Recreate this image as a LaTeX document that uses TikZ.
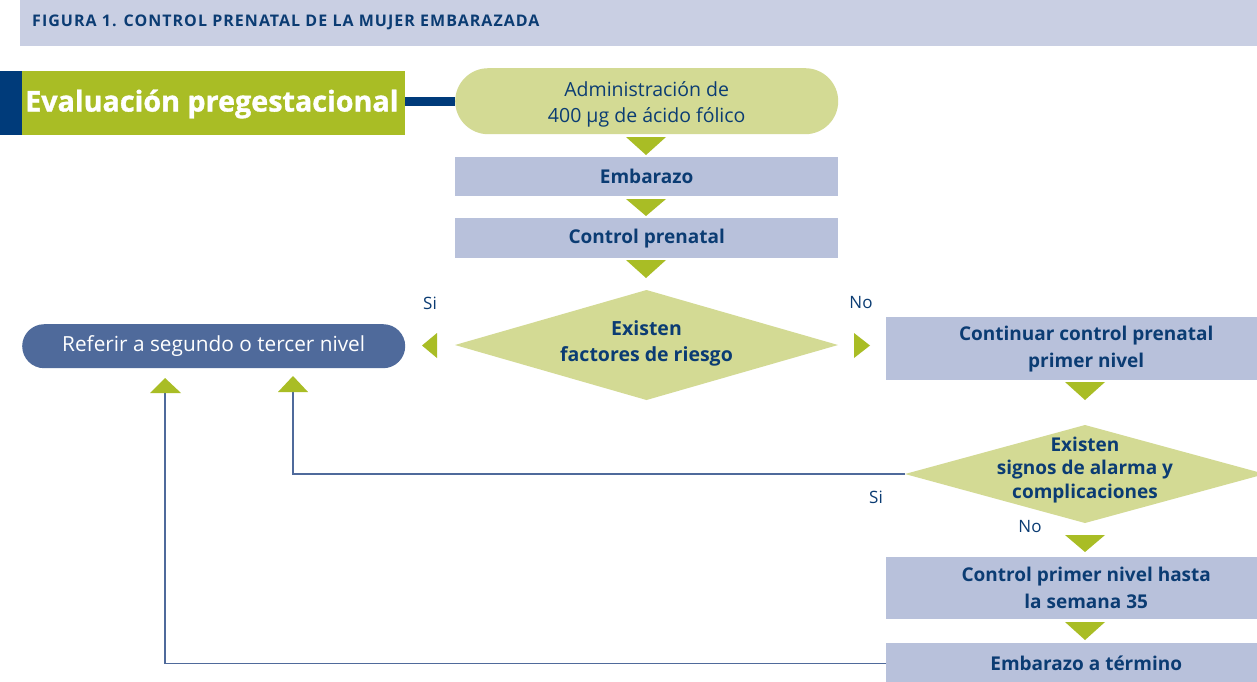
\documentclass[tikz,border=0pt]{standalone}
\usepackage{fontspec}
\setmainfont{Open Sans}
\usetikzlibrary{calc}
\definecolor{navy}{HTML}{003B7A}
\definecolor{txtblue}{HTML}{0B3C73}
\definecolor{band}{HTML}{C9CFE3}
\definecolor{olive}{HTML}{A9BD25}
\definecolor{pale}{HTML}{D3DA94}
\definecolor{lav}{HTML}{B8C1DB}
\definecolor{midblue}{HTML}{4F6A9B}
\begin{document}
\begin{tikzpicture}[x=1pt,y=-1pt,
  boxst/.style={fill=lav, text=txtblue, font=\fontsize{19}{27}\selectfont\bfseries, align=center, inner sep=0pt, anchor=north west},
  pillst/.style={fill=pale, inner sep=0pt, anchor=north west},
  dtext/.style={text=txtblue, font=\fontsize{19.5}{26}\selectfont\bfseries, align=center, inner sep=0pt},
  lblst/.style={text=txtblue, font=\fontsize{17}{19}\selectfont, inner sep=0pt},
  link/.style={draw=midblue, line width=1.3pt},
  tri/.style={fill=olive}
]
\clip (0,0) rectangle (1257,681);
\useasboundingbox (0,0) rectangle (1257,681);
\fill[white] (0,0) rectangle (1257,681);

% title band
\node[fill=band, minimum width=1240pt, minimum height=46pt, inner sep=0pt, anchor=north west] (band) at (20,0) {};
\node[text=txtblue, font=\fontsize{16}{18}\selectfont\bfseries\addfontfeature{LetterSpace=6.5}, anchor=west, inner sep=0pt] (title) at (32,22.5) {FIGURA 1. CONTROL PRENATAL DE LA MUJER EMBARAZADA};

% evaluacion pregestacional
\node[fill=navy, minimum width=22pt, minimum height=64pt, inner sep=0pt, anchor=north west] (navybar) at (0,71) {};
\node[fill=olive, minimum width=383pt, minimum height=64pt, inner sep=0pt, anchor=north west] (eval) at (22,71) {};
\node[text=white, font=\fontsize{28.7}{30}\selectfont\bfseries\addfontfeature{FakeBold=1.2}, anchor=west, inner sep=0pt] (evaltxt) at (25,104) {Evaluación pregestacional};

% main column
\node[pillst, minimum width=383pt, minimum height=66pt, rounded corners=33pt] (adm) at (455,68) {};
\node[text=txtblue, font=\fontsize{19.5}{26}\selectfont, align=center, inner sep=0pt] (admtxt) at ($(adm.center)+(0,3)$) {Administración de\\400 µg de ácido fólico};
\draw[navy, line width=9pt] (eval.east |- adm.west) -- (adm.west);

\node[boxst, minimum width=383pt, minimum height=39pt] (emb) at (455,157) {Embarazo};
\node[boxst, minimum width=383pt, minimum height=40pt] (cp) at (455,218) {Control prenatal};

\fill[pale] (455,345) -- (646.5,290) -- (838,345) -- (646.5,400) -- cycle;
\node[dtext] (d1) at (646.5,343) {Existen\\factores de riesgo};

\fill[tri] (626,137) -- (666,137) -- (646,155) -- cycle;
\fill[tri] (626,199) -- (666,199) -- (646,216) -- cycle;
\fill[tri] (626,260) -- (666,260) -- (646,278) -- cycle;

% left branch
\node[fill=midblue, text=white, font=\fontsize{20.8}{22}\selectfont, minimum width=383pt, minimum height=44pt, rounded corners=22pt, inner sep=0pt, anchor=north west] (ref) at (22,324) {Referir a segundo o tercer nivel};
\fill[tri] (437,333) -- (437,358) -- (422,345.5) -- cycle;
\node[lblst] (si1) at (430,303) {Si};

% right branch
\fill[tri] (854,333) -- (854,358) -- (870,345.5) -- cycle;
\node[lblst] (no1) at (861,303) {No};
\node[boxst, minimum width=400pt, minimum height=63pt] (cont) at (886,317) {Continuar control prenatal\\primer nivel};
\fill[tri] (1065,382) -- (1105,382) -- (1085,400) -- cycle;
\fill[pale] (905,474) -- (1085,425) -- (1265,474) -- (1085,523) -- cycle;
\node[dtext, font=\fontsize{19}{23.5}\selectfont\bfseries] (d2) at (1085,470) {Existen\\signos de alarma y\\complicaciones};
\coordinate (d2w) at (905,474);
\node[lblst] (si2) at (876,497) {Si};
\node[lblst] (no2) at (1030,527) {No};
\fill[tri] (1065,535) -- (1105,535) -- (1085,552) -- cycle;
\node[boxst, minimum width=400pt, minimum height=62pt] (cpn) at (886,557) {Control primer nivel hasta\\la semana 35};
\fill[tri] (1065,622) -- (1105,622) -- (1085,640) -- cycle;
\node[boxst, minimum width=400pt, minimum height=40pt] (term) at (886,643) {Embarazo a término};

% return connectors
\coordinate (ta) at (165,393);
\coordinate (tb) at (293,392);
\draw[link] (d2w) -| (tb);
\draw[link] (term.west) -| (ta);
\fill[tri] (150,393) -- (181,393) -- (165,378) -- cycle;
\fill[tri] (278,392) -- (308,392) -- (293,376) -- cycle;
\end{tikzpicture}
\end{document}
